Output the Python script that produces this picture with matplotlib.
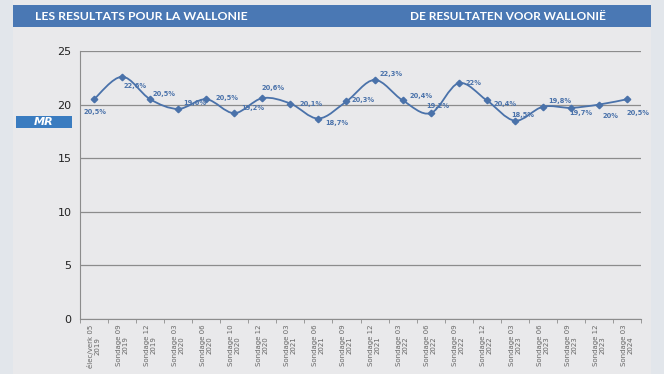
import numpy as np
import matplotlib
matplotlib.use('Agg')
import matplotlib.pyplot as plt
from matplotlib.path import Path
from matplotlib.patches import PathPatch, Rectangle

# ---------------- data ----------------
categories = ['élec/verk 05\n2019', 'Sondage 09\n2019', 'Sondage 12\n2019', 'Sondage 03\n2020',
              'Sondage 06\n2020', 'Sondage 10\n2020', 'Sondage 12\n2020', 'Sondage 03\n2021',
              'Sondage 06\n2021', 'Sondage 09\n2021', 'Sondage 12\n2021', 'Sondage 03\n2022',
              'Sondage 06\n2022', 'Sondage 09\n2022', 'Sondage 12\n2022', 'Sondage 03\n2023',
              'Sondage 06\n2023', 'Sondage 09\n2023', 'Sondage 12\n2023', 'Sondage 03\n2024']
values = [20.5, 22.6, 20.5, 19.6, 20.5, 19.2, 20.6, 20.1, 18.7, 20.3,
          22.3, 20.4, 19.2, 22.0, 20.4, 18.5, 19.8, 19.7, 20.0, 20.5]
value_labels = ['20,5%', '22,6%', '20,5%', '19,6%', '20,5%', '19,2%', '20,6%', '20,1%', '18,7%', '20,3%',
                '22,3%', '20,4%', '19,2%', '22%', '20,4%', '18,5%', '19,8%', '19,7%', '20%', '20,5%']
# label offsets in points (dx, dy)
label_offsets = [(1, -9), (9, -7), (10, 4), (12, 4), (15, 1), (13, 4), (8, 7), (15, 0), (13, -3), (12, 1),
                 (12, 4), (13, 3), (5, 5), (11, 0), (13, -3), (6, 4), (12, 4), (7, -4), (8, -8), (8, -10)]

line_color = '#4a72aa'
bg = '#e9e9eb'

fig = plt.figure(figsize=(6.64, 3.74), dpi=100)
fig.patch.set_facecolor('#e2e6eb')

# slide background and title band
fig.patches.append(Rectangle((13 / 664, 0), 638 / 664, 1, transform=fig.transFigure,
                             facecolor=bg, edgecolor='none', zorder=-2))
fig.patches.append(Rectangle((13 / 664, 1 - 27 / 374), 638 / 664, 22 / 374, transform=fig.transFigure,
                             facecolor='#4a78b4', edgecolor='none', zorder=-1))
fig.text(35 / 664, 1 - 17 / 374, 'LES RESULTATS POUR LA WALLONIE', color='white', fontsize=8.8,
         fontweight='bold', family='Lato', va='center', ha='left')
fig.text(606 / 664, 1 - 17 / 374, 'DE RESULTATEN VOOR WALLONIË', color='white', fontsize=8.5,
         fontweight='bold', family='Lato', va='center', ha='right')

# MR logo
fig.patches.append(Rectangle((16 / 664, 1 - 128 / 374), 56 / 664, 12 / 374, transform=fig.transFigure,
                             facecolor='#3a7cc0', edgecolor='none', zorder=-1))
fig.text(44 / 664, 1 - 122 / 374, 'MR', color='white', fontsize=8, fontweight='bold', style='italic',
         va='center', ha='center')

ax = fig.add_axes([80 / 664, 1 - 319 / 374, 561 / 664, 268 / 374])
ax.set_facecolor(bg)

x = np.arange(len(values))
y = np.array(values)

# smoothed line (Excel-like Catmull-Rom bezier)
verts = [(x[0], y[0])]
codes = [Path.MOVETO]
for i in range(len(x) - 1):
    p0 = np.array([x[max(i - 1, 0)], y[max(i - 1, 0)]])
    p1 = np.array([x[i], y[i]])
    p2 = np.array([x[i + 1], y[i + 1]])
    p3 = np.array([x[min(i + 2, len(x) - 1)], y[min(i + 2, len(x) - 1)]])
    c1 = p1 + (p2 - p0) / 6
    c2 = p2 - (p3 - p1) / 6
    verts += [tuple(c1), tuple(c2), tuple(p2)]
    codes += [Path.CURVE4] * 3
ax.add_patch(PathPatch(Path(verts, codes), facecolor='none', edgecolor=line_color, lw=1.3, zorder=3))
ax.plot(x, y, linestyle='none', marker='D', markersize=3.3, color=line_color, zorder=4)

for xi, yi, lab, (dx, dy) in zip(x, y, value_labels, label_offsets):
    ax.annotate(lab, (xi, yi), xytext=(dx, dy), textcoords='offset points', ha='center', va='center',
                fontsize=4.8, color=line_color, fontweight='bold', zorder=5)

ax.set_xlim(-0.5, len(values) - 0.5)
ax.set_ylim(0, 25)
ax.set_yticks([0, 5, 10, 15, 20, 25])
ax.tick_params(axis='y', labelsize=8, length=0, pad=6, colors='#222222')
ax.yaxis.grid(True, color='#8c8c8c', lw=0.9)
ax.set_axisbelow(True)

ax.set_xticks(x)
ax.set_xticklabels(categories, rotation=90, fontsize=5.0, color='#666666', linespacing=1.1)
ax.set_xticks(np.arange(-0.5, len(values)), minor=True)
ax.tick_params(axis='x', which='major', length=0, pad=4)
ax.tick_params(axis='x', which='minor', length=3, color='#8c8c8c', direction='out')

for s in ['top', 'right']:
    ax.spines[s].set_visible(False)
ax.spines['left'].set_color('#8c8c8c')
ax.spines['bottom'].set_color('#8c8c8c')

fig.savefig('out.png', dpi=100, facecolor=fig.get_facecolor())
